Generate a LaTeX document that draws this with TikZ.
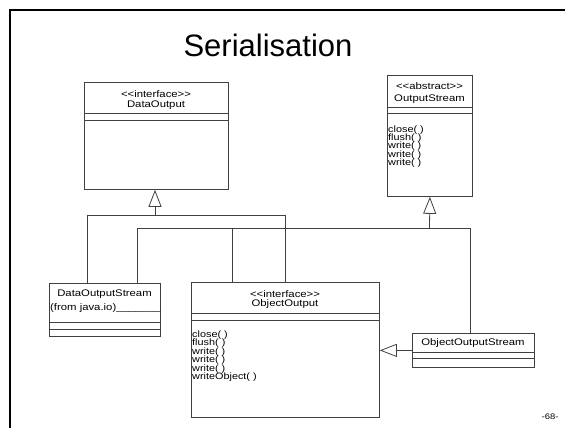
\documentclass[tikz,border=0pt]{standalone}
\usepackage{fontspec}
\setmainfont{Liberation Sans}
\newfontfamily\umlfont[FakeStretch=1.18]{Liberation Sans}
\usetikzlibrary{arrows.meta}
\tikzset{
  umlbox/.style={draw=black!75, line width=0.8pt, inner sep=0pt, anchor=north west},
  umlline/.style={draw=black!75, line width=0.8pt},
  inherit/.style={umlline, -{Triangle[open, length=17pt, width=13pt]}},
  umltext/.style={font=\umlfont\fontsize{9.6}{11}\selectfont, inner sep=0pt},
  umlop/.style={umltext, font=\umlfont\fontsize{9.2}{11}\selectfont, anchor=west, text height=7pt, text depth=2pt},
}
\begin{document}
\begin{tikzpicture}[x=1pt,y=-1pt]
\useasboundingbox (0,0) rectangle (565,428);
\draw[line width=2pt] (10,432) -- (10,10) -- (568,10);
\node[font=\fontsize{31}{36}\selectfont] (title) at (268,45) {Serialisation};
\node[font=\umlfont\fontsize{8}{10}\selectfont] (page) at (550,417) {-68-};

\node[umlbox, minimum width=144pt, minimum height=107pt] (dout) at (84,82) {};
\draw[umlline] ([yshift=-31pt]dout.north west) -- ([yshift=-31pt]dout.north east);
\draw[umlline] ([yshift=-38pt]dout.north west) -- ([yshift=-38pt]dout.north east);
\node[umltext] (dout-st) at (156,94) {<{}<interface>{}>};
\node[umltext] (dout-name) at (156,105) {DataOutput};

\node[umlbox, minimum width=85pt, minimum height=121pt] (ostr) at (387,75) {};
\draw[umlline] ([yshift=-32pt]ostr.north west) -- ([yshift=-32pt]ostr.north east);
\draw[umlline] ([yshift=-38pt]ostr.north west) -- ([yshift=-38pt]ostr.north east);
\node[umltext] (ostr-st) at (429.5,86) {<{}<abstract>{}>};
\node[umltext] (ostr-name) at (429.5,99) {OutputStream};
\foreach \op [count=\i] in {close( ),flush( ),write( ),write( ),write( )}
  \node[umlop] (ostr-op\i) at (388,121.8+8.2*\i) {\op};

\node[umlbox, minimum width=111pt, minimum height=53pt] (dos) at (49,283) {};
\draw[umlline] ([yshift=-39pt]dos.north west) -- ([yshift=-39pt]dos.north east);
\draw[umlline] ([yshift=-46pt]dos.north west) -- ([yshift=-46pt]dos.north east);
\node[umltext] (dos-name) at (104.5,294) {DataOutputStream};
\node[umltext, anchor=west] (dos-pkg) at (50,308) {(from java.io)\_\_\_\_\_\_\_};

\node[umlbox, minimum width=188pt, minimum height=135pt] (oout) at (191,282) {};
\draw[umlline] ([yshift=-31pt]oout.north west) -- ([yshift=-31pt]oout.north east);
\draw[umlline] ([yshift=-38pt]oout.north west) -- ([yshift=-38pt]oout.north east);
\node[umltext] (oout-st) at (285,294) {<{}<interface>{}>};
\node[umltext] (oout-name) at (285,304) {ObjectOutput};
\foreach \op [count=\i] in {close( ),flush( ),write( ),write( ),write( ),writeObject( )}
  \node[umlop] (oout-op\i) at (192,326.6+8.4*\i) {\op};

\node[umlbox, minimum width=122pt, minimum height=34pt] (oos) at (412,333) {};
\draw[umlline] ([yshift=-19pt]oos.north west) -- ([yshift=-19pt]oos.north east);
\draw[umlline] ([yshift=-25pt]oos.north west) -- ([yshift=-25pt]oos.north east);
\node[umltext] (oos-name) at (473,343) {ObjectOutputStream};

\coordinate (b1w) at (87,215);
\coordinate (b1m) at (155,215);
\coordinate (b1e) at (285,215);
\coordinate (b2w) at (137,228);
\coordinate (b2c) at (232,228);
\coordinate (b2m) at (429.5,228);
\coordinate (b2e) at (470,228);

\draw[umlline] (dos.north -| b1w) -- (b1w) -- (b1e) -- (oout.north -| b1e);
\draw[inherit] (b1m) -- (dout.south -| b1m);
\draw[umlline] (dos.north -| b2w) -- (b2w) -- (b2e) -- (oos.north -| b2e);
\draw[umlline] (b2c) -- (oout.north -| b2c);
\draw[inherit] (b2m) -- (ostr.south);
\draw[inherit] (oos.west) -- (oout.east |- oos.west);
\end{tikzpicture}
\end{document}
